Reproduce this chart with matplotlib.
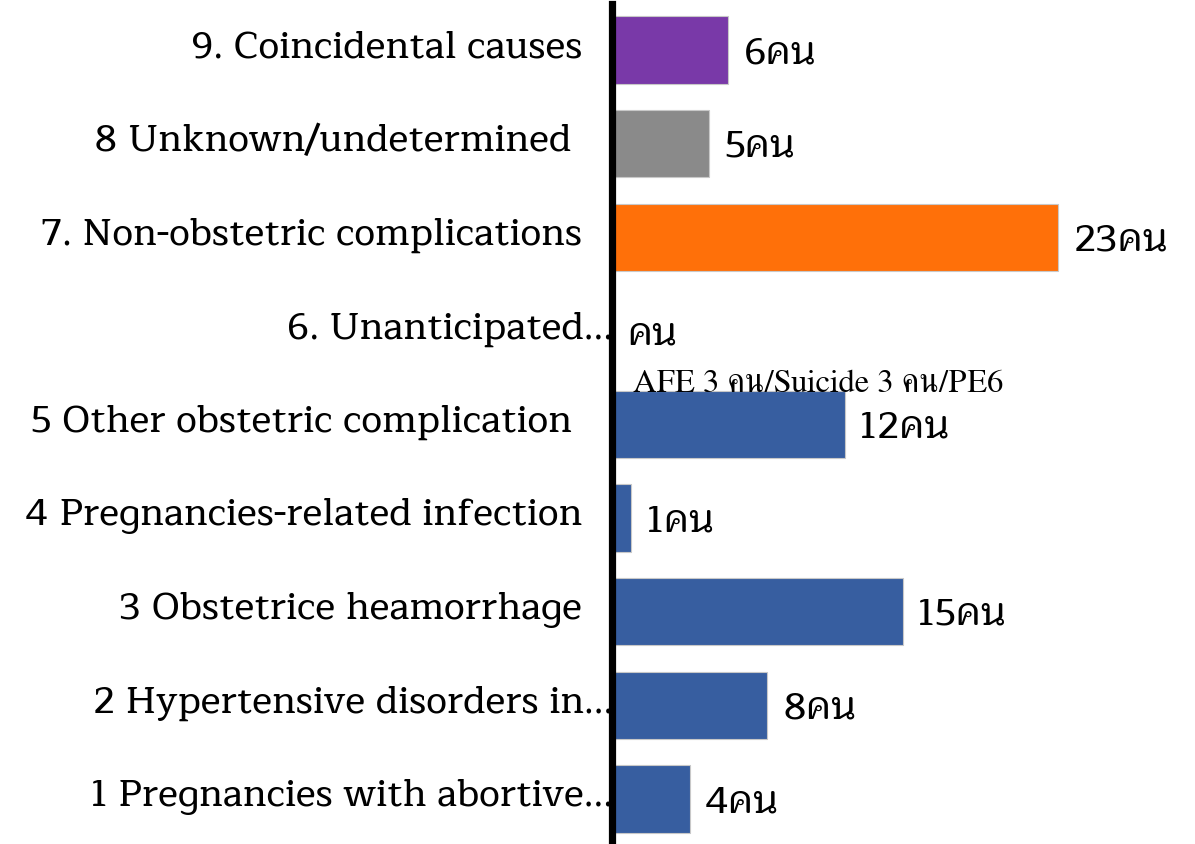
import matplotlib
matplotlib.use('Agg')
import matplotlib.pyplot as plt

# causes of maternal death, bottom to top
labels = [
    '1 Pregnancies with abortive...',
    '2 Hypertensive disorders in...',
    '3 Obstetrice heamorrhage',
    '4 Pregnancies-related infection',
    '5 Other obstetric complication ',
    '6. Unanticipated...',
    '7. Non-obstetric complications',
    '8 Unknown/undetermined ',
    '9. Coincidental causes',
]
counts = [4, 8, 15, 1, 12, 0, 23, 5, 6]
value_text = ['4คน', '8คน', '15คน', '1คน', '12คน', 'คน', '23คน', '5คน', '6คน']
colors = ['#375EA0', '#375EA0', '#375EA0', '#375EA0', '#375EA0', '#375EA0',
          '#FF7009', '#8A8A8A', '#7939A8']
note = 'AFE 3 คน/Suicide 3 คน/PE6'

label_font = ['Maitree', 'DejaVu Serif']
note_font = ['FreeSerif', 'DejaVu Serif']

fig = plt.figure(figsize=(11.95, 8.45), dpi=100)
ax = fig.add_axes([612 / 1195, 0, 583 / 1195, 0.994])

ypos = list(range(len(labels)))
ax.barh(ypos, counts, height=0.72, color=colors, edgecolor='#C8C8C8', linewidth=0.8, zorder=2)

ax.set_xlim(0, 30.07)
ax.set_ylim(-0.48, 8.49)
ax.set_xticks([])
ax.set_yticks([])
for s in ['top', 'right', 'bottom']:
    ax.spines[s].set_visible(False)
ax.spines['left'].set_linewidth(5.2)
ax.spines['left'].set_color('black')
ax.spines['left'].set_zorder(5)

# category labels left of the axis line
for y, lab in zip(ypos, labels):
    dx = 1 if lab.endswith('...') else -21.5
    ax.annotate(lab, xy=(0, y), xytext=(dx, 2), textcoords='offset points',
                ha='right', va='center', fontsize=27, family=label_font,
                weight='medium', annotation_clip=False, zorder=1)

# value labels at bar ends
for y, v, t in zip(ypos, counts, value_text):
    ax.annotate(t, xy=(v, y), xytext=(11, -2), textcoords='offset points',
                ha='left', va='center', fontsize=27.5, family=label_font,
                weight='medium')

ax.annotate(note, xy=(0, 5), xytext=(15, -38), textcoords='offset points',
            ha='left', va='center', fontsize=23.5, family=note_font)

fig.savefig('out.png', dpi=100)
